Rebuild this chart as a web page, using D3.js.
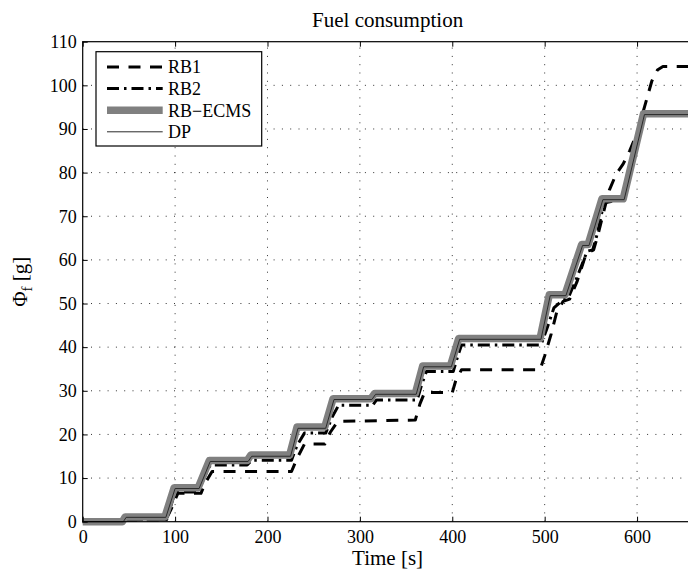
<!DOCTYPE html>
<html>
<head>
<meta charset="utf-8">
<script src="https://cdn.jsdelivr.net/npm/d3@7/dist/d3.min.js"></script>
<style>
  body { margin: 0; background: #fff; }
  svg text { font-family: "Liberation Serif", "Times New Roman", serif; fill: #000; }
</style>
</head>
<body>
<div id="chart"></div>
<script>
// tick values
const xTicks = [0, 100, 200, 300, 400, 500, 600];
const yTicks = [0, 10, 20, 30, 40, 50, 60, 70, 80, 90, 100, 110];

// [time s, fuel g]
const rb1 = [[0,0],[44,0],[47,0.4],[90,0.4],[96,3],[103,6.5],[128,6.5],[133,9],[140,11.5],[226,11.5],
  [232,14.5],[240,17.8],[262,17.8],[268,20.5],[276,23],[360,23.3],[365,27],[370,29.6],[400,29.6],
  [404,32.5],[410,34.8],[495,34.8],[500,38],[507,43],[513,48],[520,50.5],[527,51],[535,55],[545,61.5],
  [553,62.3],[558,66],[565,72],[570,76],[577,79.5],[585,82],[592,85],[600,89],[608,95],[616,101],
  [622,103.5],[628,104.3],[660,104.3]];
const rb2 = [[0,0],[44,0],[47,0.5],[91,0.5],[100,6.8],[126,6.8],[131,10],[138,13],[178,13],[183,14.1],
  [226,14.1],[232,17.5],[240,20.3],[263,20.3],[270,24],[277,26.7],[314,26.7],[318,27.9],[362,27.9],
  [367,31.5],[372,34.4],[401,34.4],[406,38],[410,40.5],[496,40.5],[502,44],[510,49],[518,50.5],
  [526,51.5],[535,56],[546,62],[552,62.3],[557,66],[564,73],[586,74],[597,84],[608,93.3],[660,93.3]];
const rbEcms = [[0,0],[43,0],[46,1.1],[89,1.1],[99,7.8],[125,7.8],[137,14],[178,14],[182,15.3],[224,15.3],
  [232,21.7],[262,21.7],[271,28.2],[312,28.2],[316,29.4],[360,29.4],[368,35.7],[398,35.7],[407,42],
  [495,42],[505,52],[522,52],[540,63.5],[547,63.5],[562,74],[585,74],[607,93.5],[660,93.5]];
const dp = [[0,0],[44,0],[47,1],[90,1],[100,7.6],[126,7.6],[138,13.8],[179,13.8],[183,15],[225,15],
  [233,21.4],[263,21.4],[272,28],[313,28],[317,29.2],[361,29.2],[369,35.5],[399,35.5],[408,41.8],
  [496,41.8],[506,51.8],[523,51.8],[541,63.3],[548,63.3],[563,73.8],[586,73.8],[608,93.3],[660,93.3]];

const seriesNames = ["RB1", "RB2", "RB\u2212ECMS", "DP"];
const seriesData = [rb1, rb2, rbEcms, dp];
const seriesStyle = [
  { stroke: "#000", width: 3, dash: "12,9.5" },
  { stroke: "#000", width: 3, dash: "12,5,2.5,5" },
  { stroke: "#808080", width: 7.5, dash: null },
  { stroke: "#2a2a2a", width: 1, dash: null }
];

const W = 688, H = 576;
const mLeft = 82.7, mTop = 41.7, mBottom = 521.7, mRight = 692.5;

const svg = d3.select("#chart").append("svg")
  .attr("width", W).attr("height", H);

const x = d3.scaleLinear().domain([0, 660]).range([mLeft, mRight]);
const y = d3.scaleLinear().domain([0, 110]).range([mBottom, mTop]);

// dotted grid
const grid = svg.append("g").attr("stroke", "#333").attr("stroke-width", 1)
  .attr("stroke-dasharray", "1,7.3");
xTicks.filter(d => d > 0).forEach(d => {
  grid.append("line").attr("x1", x(d)).attr("x2", x(d)).attr("y1", mBottom).attr("y2", mTop);
});
yTicks.filter(d => d > 0 && d < 110).forEach(d => {
  grid.append("line").attr("x1", mLeft).attr("x2", mRight).attr("y1", y(d)).attr("y2", y(d));
});

// curves
const line = d3.line().x(d => x(d[0])).y(d => y(d[1]));
const curves = svg.append("g").attr("fill", "none");
seriesData.forEach((data, i) => {
  const s = seriesStyle[i];
  curves.append("path").datum(data)
    .attr("d", line)
    .attr("stroke", s.stroke)
    .attr("stroke-width", s.width)
    .attr("stroke-dasharray", s.dash)
    .attr("stroke-linejoin", "round");
});

// axes with inward ticks
const xAxis = svg.append("g").attr("transform", `translate(0,${mBottom})`)
  .call(d3.axisBottom(x).tickValues(xTicks).tickSizeInner(-5).tickSizeOuter(0).tickPadding(9));
const yAxis = svg.append("g").attr("transform", `translate(${mLeft},0)`)
  .call(d3.axisLeft(y).tickValues(yTicks).tickSizeInner(-5).tickSizeOuter(0).tickPadding(6));
svg.append("g").attr("transform", `translate(0,${mTop})`)
  .call(d3.axisTop(x).tickValues(xTicks).tickSizeInner(-5).tickSizeOuter(0).tickFormat(""))
  .select(".domain").remove();
[xAxis, yAxis].forEach(g => {
  g.selectAll("text").style("font-size", "18px").style("font-family", "Liberation Serif");
  g.select(".domain").remove();
});
svg.selectAll(".tick line").attr("stroke", "#000");

// frame
svg.append("rect").attr("x", mLeft).attr("y", mTop)
  .attr("width", mRight - mLeft).attr("height", mBottom - mTop)
  .attr("fill", "none").attr("stroke", "#000").attr("stroke-width", 1.2);

// title and labels
svg.append("text").attr("x", (mLeft + mRight) / 2).attr("y", 26.5)
  .attr("text-anchor", "middle").style("font-size", "21px").text("Fuel consumption");
svg.append("text").attr("x", (mLeft + mRight) / 2).attr("y", 565)
  .attr("text-anchor", "middle").style("font-size", "21px").text("Time [s]");
const yl = svg.append("text")
  .attr("transform", `translate(27,${(mTop + mBottom) / 2}) rotate(-90)`)
  .attr("text-anchor", "middle").style("font-size", "21px");
yl.append("tspan").text("\u03A6");
yl.append("tspan").attr("dy", 5).style("font-size", "15px").text("f");
yl.append("tspan").attr("dy", -5).text(" [g]");

// legend
const lg = svg.append("g");
lg.append("rect").attr("x", 96).attr("y", 51.7).attr("width", 165.7).attr("height", 94.3)
  .attr("fill", "#fff").attr("stroke", "#000").attr("stroke-width", 1.2);
seriesNames.forEach((name, i) => {
  const s = seriesStyle[i];
  const ly = 67 + i * 21.6;
  lg.append("line").attr("x1", 107).attr("x2", 162.7).attr("y1", ly).attr("y2", ly)
    .attr("stroke", s.stroke).attr("stroke-width", s.width).attr("stroke-dasharray", s.dash);
  lg.append("text").attr("x", 168).attr("y", ly).attr("dy", "0.35em")
    .style("font-size", "18px").text(name);
});
</script>
</body>
</html>
